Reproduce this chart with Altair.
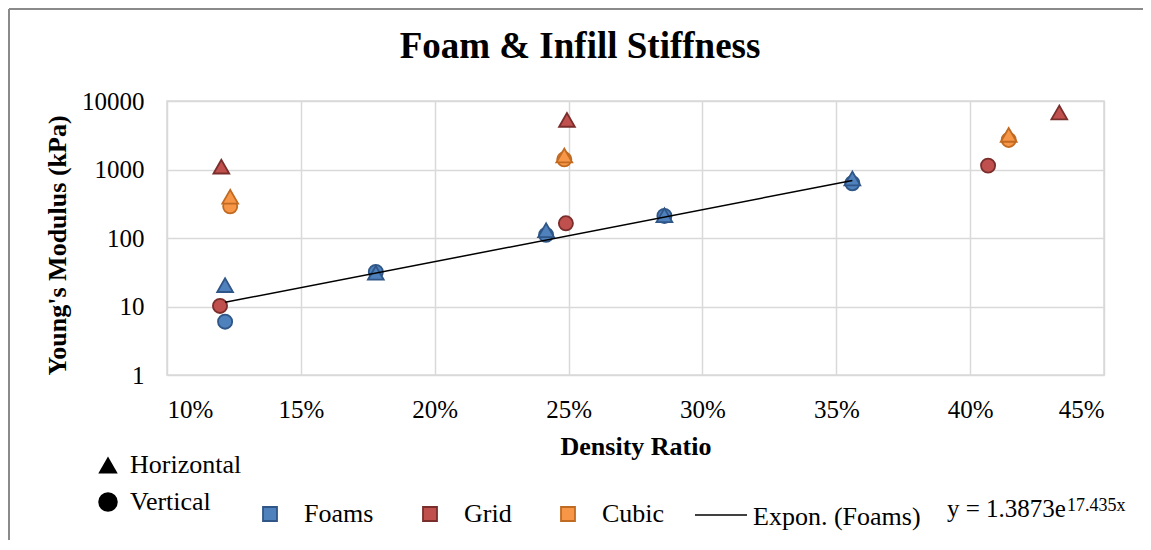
import altair as alt
import pandas as pd

# ---------------- data ----------------
TITLE = "Foam & Infill Stiffness"
X_TITLE = "Density Ratio"
Y_TITLE = "Young's Modulus (kPa)"
X_DOMAIN = [0.10, 0.45]
X_TICKS = [0.10, 0.15, 0.20, 0.25, 0.30, 0.35, 0.40, 0.45]
Y_DOMAIN = [1, 10000]
Y_TICKS = [1, 10, 100, 1000, 10000]

MATERIALS = ["Foams", "Grid", "Cubic"]
ORIENTATIONS = ["Horizontal", "Vertical"]

foams_h_x = [0.1217, 0.178, 0.2416, 0.2858, 0.356]
foams_h_y = [20.5, 31, 130, 215, 740]
foams_v_x = [0.1217, 0.178, 0.2416, 0.2858, 0.356]
foams_v_y = [6.0, 32, 111, 210, 630]
grid_h_x = [0.1203, 0.2494, 0.4333]
grid_h_y = [1100, 5300, 6800]
grid_v_x = [0.1198, 0.249, 0.4067]
grid_v_y = [10.2, 164, 1140]
cubic_h_x = [0.1236, 0.2484, 0.4144]
cubic_h_y = [400, 1600, 3200]
cubic_v_x = [0.1236, 0.2484, 0.4144]
cubic_v_y = [290, 1410, 2700]

trend_x = [0.1217, 0.356]
trend_y = [11.5, 690]
TREND_LABEL = "Expon. (Foams)"
EQUATION = "y = 1.3873e"
EQUATION_EXP = "17.435x"

FILL_COLORS = ["#4F81BD", "#C0504D", "#F79646"]
STROKE_COLORS = ["#2F5686", "#7A2E2C", "#C06A22"]
SERIF = "Liberation Serif"

# ---------------- tables ----------------
rows = []
for mat, ori, xs, ys in [
    ("Foams", "Vertical", foams_v_x, foams_v_y),
    ("Grid", "Vertical", grid_v_x, grid_v_y),
    ("Cubic", "Vertical", cubic_v_x, cubic_v_y),
    ("Foams", "Horizontal", foams_h_x, foams_h_y),
    ("Grid", "Horizontal", grid_h_x, grid_h_y),
    ("Cubic", "Horizontal", cubic_h_x, cubic_h_y),
]:
    for xv, yv in zip(xs, ys):
        rows.append({"Material": mat, "Orientation": ori, "density": xv, "modulus": yv})
df = pd.DataFrame(rows)
trend_df = pd.DataFrame({"density": trend_x, "modulus": trend_y})

# ---------------- encodings ----------------
x_enc = alt.X(
    "density:Q",
    scale=alt.Scale(domain=X_DOMAIN, nice=False, zero=False),
    axis=alt.Axis(
        values=X_TICKS, format=".0%", title=X_TITLE,
        labelBaseline="alphabetic", labelPadding=42,
        titleY=71, titleBaseline="middle",
    ),
)
y_enc = alt.Y(
    "modulus:Q",
    scale=alt.Scale(type="log", domain=Y_DOMAIN, nice=False),
    axis=alt.Axis(
        values=Y_TICKS, format="d", title=Y_TITLE,
        labelPadding=23, titleX=-110, titleY=144, titleBaseline="middle",
    ),
)

mat_legend = alt.Legend(
    title=None, orient="none", legendX=90, legendY=400, direction="horizontal",
    symbolType="square", symbolSize=196, symbolStrokeWidth=1.8,
    labelFont=SERIF, labelFontSize=26, labelColor="black", labelOffset=21,
    columnPadding=43, padding=0,
)
ori_legend = alt.Legend(
    title=None, orient="none", legendX=-72, legendY=351, direction="vertical",
    symbolSize=380, symbolFillColor="black", symbolStrokeColor="black",
    symbolStrokeWidth=0, labelFont=SERIF, labelFontSize=26, labelColor="black",
    labelOffset=9, rowPadding=11, padding=0,
)

fill_enc = alt.Fill("Material:N", scale=alt.Scale(domain=MATERIALS, range=FILL_COLORS), legend=mat_legend)
stroke_enc = alt.Stroke("Material:N", scale=alt.Scale(domain=MATERIALS, range=STROKE_COLORS), legend=mat_legend)
shape_enc = alt.Shape("Orientation:N", scale=alt.Scale(domain=ORIENTATIONS, range=["triangle-up", "circle"]), legend=ori_legend)

circles = alt.Chart(df).transform_filter(alt.datum.Orientation == "Vertical").mark_point(
    filled=True, opacity=1, strokeWidth=1.8, size=200
).encode(x=x_enc, y=y_enc, fill=fill_enc, stroke=stroke_enc, shape=shape_enc)

triangles = alt.Chart(df).transform_filter(alt.datum.Orientation == "Horizontal").mark_point(
    filled=True, opacity=1, strokeWidth=1.8, size=250
).encode(x=x_enc, y=y_enc, fill=fill_enc, stroke=stroke_enc, shape=shape_enc)

trend = alt.Chart(trend_df).mark_line(color="black", strokeWidth=1.5).encode(
    x="density:Q", y="modulus:Q"
)

# title, trendline legend entry and equation as real text
title_text = alt.Chart(pd.DataFrame({"t": [TITLE]})).mark_text(
    font=SERIF, fontSize=37, fontWeight="bold", align="center", baseline="alphabetic", color="black"
).encode(x=alt.value(413), y=alt.value(-43), text="t:N")

one = pd.DataFrame({"t": [TREND_LABEL]})
trend_key = alt.Chart(one).mark_rule(color="black", strokeWidth=1.5).encode(
    x=alt.value(528), x2=alt.value(580), y=alt.value(414)
)
trend_text = alt.Chart(one).mark_text(
    font=SERIF, fontSize=26, align="left", baseline="alphabetic", color="black"
).encode(x=alt.value(586), y=alt.value(424), text="t:N")
eq_text = alt.Chart(pd.DataFrame({"t": [EQUATION]})).mark_text(
    font=SERIF, fontSize=25, align="left", baseline="alphabetic", color="black"
).encode(x=alt.value(780), y=alt.value(416), text="t:N")
eq_exp = alt.Chart(pd.DataFrame({"t": [EQUATION_EXP]})).mark_text(
    font=SERIF, fontSize=18, align="left", baseline="alphabetic", color="black"
).encode(x=alt.value(900), y=alt.value(410), text="t:N")

# outer frame (top and left edges of the chart box)
frame_top = alt.Chart(one).mark_rule(color="#8a8a8a", strokeWidth=2).encode(
    x=alt.value(-158), x2=alt.value(976), y=alt.value(-92)
)
frame_left = alt.Chart(one).mark_rule(color="#8a8a8a", strokeWidth=2).encode(
    x=alt.value(-158), y=alt.value(-92), y2=alt.value(440)
)

chart = alt.layer(
    circles, triangles, trend, title_text, trend_key, trend_text, eq_text, eq_exp,
    frame_top, frame_left
).resolve_scale(
    fill="shared", stroke="shared", shape="shared"
).properties(
    width=937,
    height=274,
    autosize=alt.AutoSizeParams(type="none"),
    padding={"left": 159, "top": 93, "right": 39, "bottom": 165},
).configure_view(
    stroke="#D9D9D9", strokeWidth=1.5
).configure_axis(
    grid=True, gridColor="#D9D9D9", gridWidth=1.5, domain=False, ticks=False,
    labelFont=SERIF, labelFontSize=25, labelColor="black",
    titleFont=SERIF, titleFontSize=26, titleFontWeight="bold", titleColor="black",
).configure_legend(
    labelFont=SERIF, labelFontSize=26, labelColor="black",
)

chart.save("out.html", embed_options={"renderer": "svg", "actions": False})
